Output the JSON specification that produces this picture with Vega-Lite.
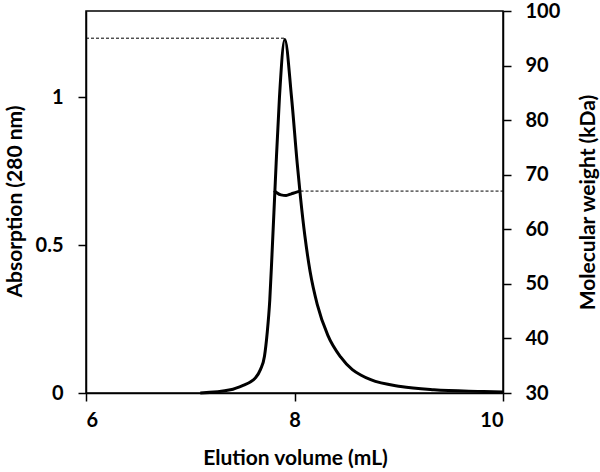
{
  "$schema": "https://vega.github.io/schema/vega-lite/v6.json",
  "width": 417,
  "height": 382,
  "autosize": "none",
  "padding": {"left": 86, "top": 11, "right": 97, "bottom": 79},
  "background": "white",
  "config": {
    "view": {"stroke": "#000", "strokeWidth": 1.5},
    "font": "Lato",
    "axis": {
      "grid": false,
      "domainColor": "#000",
      "domainWidth": 1.5,
      "tickColor": "#000",
      "tickWidth": 1.5,
      "tickSize": 8,
      "labelFont": "Lato",
      "labelFontWeight": "bold",
      "labelFontSize": 20,
      "labelColor": "#000",
      "titleFont": "Lato",
      "titleFontWeight": "bold",
      "titleFontSize": 21,
      "titleColor": "#000"
    }
  },
  "datasets": {
    "absorb": [
      {"v": 7.096, "abs": 0.0},
      {"v": 7.385, "abs": 0.011},
      {"v": 7.513, "abs": 0.027},
      {"v": 7.58, "abs": 0.038},
      {"v": 7.625, "abs": 0.051},
      {"v": 7.673, "abs": 0.079},
      {"v": 7.712, "abs": 0.124},
      {"v": 7.738, "abs": 0.203},
      {"v": 7.763, "abs": 0.315},
      {"v": 7.784, "abs": 0.467},
      {"v": 7.811, "abs": 0.676},
      {"v": 7.824, "abs": 0.777},
      {"v": 7.856, "abs": 1.002},
      {"v": 7.907, "abs": 1.196},
      {"v": 7.971, "abs": 1.002},
      {"v": 8.026, "abs": 0.777},
      {"v": 8.058, "abs": 0.66},
      {"v": 8.10, "abs": 0.53},
      {"v": 8.15, "abs": 0.41},
      {"v": 8.218, "abs": 0.30},
      {"v": 8.32, "abs": 0.195},
      {"v": 8.442, "abs": 0.122},
      {"v": 8.555, "abs": 0.079},
      {"v": 8.635, "abs": 0.061},
      {"v": 8.731, "abs": 0.045},
      {"v": 9.019, "abs": 0.022},
      {"v": 9.337, "abs": 0.011},
      {"v": 9.817, "abs": 0.005},
      {"v": 10.0, "abs": 0.003}
    ],
    "mw": [
      {"v": 7.805, "mw": 67.1},
      {"v": 7.83, "mw": 66.7},
      {"v": 7.87, "mw": 66.3},
      {"v": 7.92, "mw": 66.2},
      {"v": 7.97, "mw": 66.5},
      {"v": 8.02, "mw": 66.8},
      {"v": 8.058, "mw": 67.0}
    ],
    "absdash": [{"v1": 6, "v2": 7.907, "abs": 1.2}],
    "mwdash": [{"v1": 8.058, "v2": 10, "mw": 67.0}]
  },
  "layer": [
    {
      "layer": [
        {
          "data": {"name": "absdash"},
          "mark": {"type": "rule", "stroke": "#000", "strokeWidth": 1, "strokeDash": [3, 2]},
          "encoding": {
            "x": {"field": "v1", "type": "quantitative"},
            "x2": {"field": "v2"},
            "y": {"field": "abs", "type": "quantitative"}
          }
        },
        {
          "data": {"name": "absorb"},
          "mark": {"type": "line", "stroke": "#000", "strokeWidth": 3, "interpolate": "monotone"},
          "encoding": {
            "x": {
              "field": "v", "type": "quantitative",
              "scale": {"domain": [6, 10], "nice": false, "zero": false},
              "axis": {
                "values": [6, 8, 10],
                "labelExpr": "'' + datum.value",
                "title": "Elution volume (mL)",
                "labelPadding": 9,
                "titleX": 209, "titleY": 65, "titleBaseline": "middle", "titleAlign": "center"
              }
            },
            "y": {
              "field": "abs", "type": "quantitative",
              "scale": {"domain": [0, 1.292], "nice": false},
              "axis": {
                "orient": "left",
                "values": [0, 0.5, 1],
                "labelExpr": "'' + datum.value",
                "labelPadding": 15,
                "title": "Absorption (280 nm)",
                "titleAngle": 270,
                "titleX": -71, "titleY": 190, "titleBaseline": "middle", "titleAlign": "center"
              }
            }
          }
        }
      ]
    },
    {
      "layer": [
        {
          "data": {"name": "mwdash"},
          "mark": {"type": "rule", "stroke": "#000", "strokeWidth": 1, "strokeDash": [3, 2]},
          "encoding": {
            "x": {"field": "v1", "type": "quantitative"},
            "x2": {"field": "v2"},
            "y": {"field": "mw", "type": "quantitative"}
          }
        },
        {
          "data": {"name": "mw"},
          "mark": {"type": "line", "stroke": "#000", "strokeWidth": 3, "interpolate": "monotone"},
          "encoding": {
            "x": {"field": "v", "type": "quantitative"},
            "y": {
              "field": "mw", "type": "quantitative",
              "scale": {"domain": [30, 100], "nice": false, "zero": false},
              "axis": {
                "orient": "right",
                "values": [30, 40, 50, 60, 70, 80, 90, 100],
                "labelPadding": 14,
                "title": "Molecular weight (kDa)",
                "titleAngle": 270,
                "titleX": 85, "titleY": 191, "titleBaseline": "middle", "titleAlign": "center"
              }
            }
          }
        }
      ]
    }
  ],
  "resolve": {"scale": {"y": "independent"}}
}
